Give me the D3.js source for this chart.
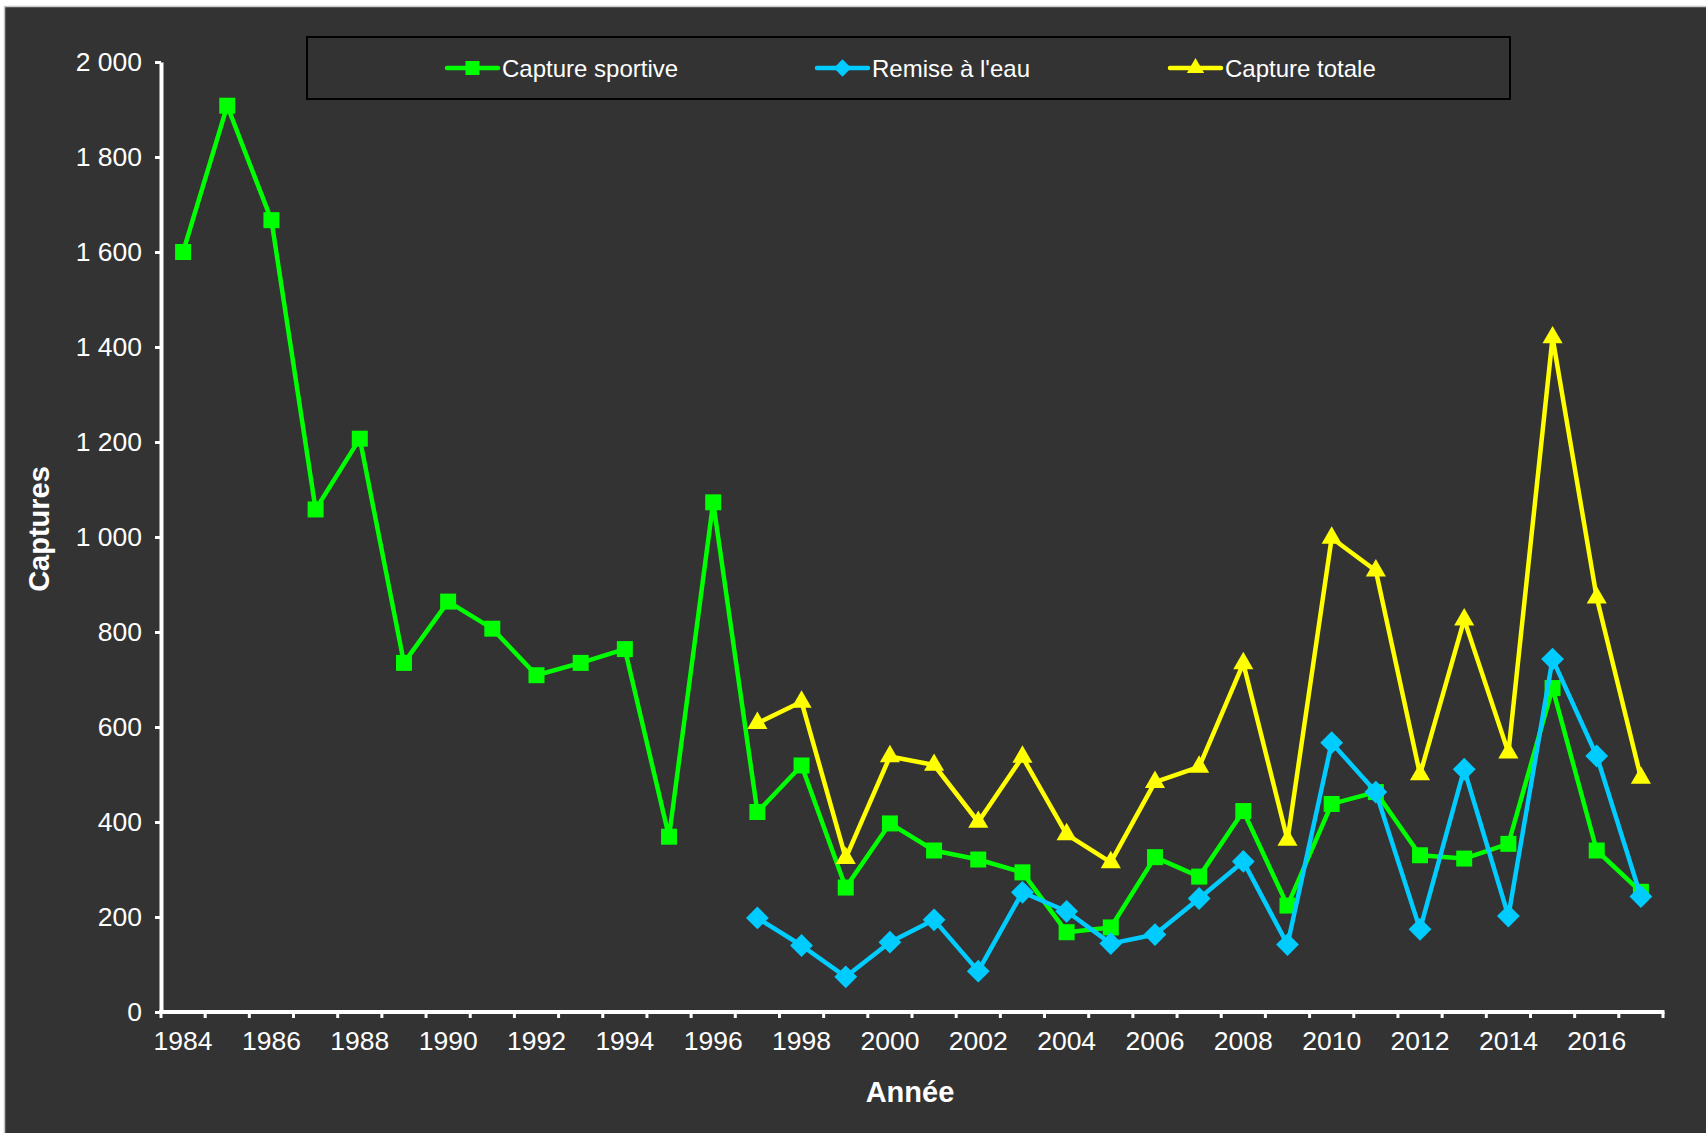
<!DOCTYPE html>
<html>
<head>
<meta charset="utf-8">
<script src="https://cdn.jsdelivr.net/npm/d3@7"></script>
<style>
  html, body { margin: 0; padding: 0; background: #ffffff; }
  svg { display: block; }
  text { font-family: "Liberation Sans", Arial, sans-serif; fill: #ffffff; }
</style>
</head>
<body>
<div id="chart"></div>
<script>
// years on the category axis
const years = d3.range(1984, 2018);
const yTicks = [0, 200, 400, 600, 800, 1000, 1200, 1400, 1600, 1800, 2000];

// Capture sportive, 1984 - 2017
const captureSportive = [1600, 1908, 1667, 1058, 1207, 735, 864, 807, 709, 735, 764, 369, 1073,
  421, 519, 262, 397, 340, 321, 294, 168, 178, 326, 285, 423, 224, 438, 463, 330, 323, 354, 682, 340, 253];

// Remise à l'eau, 1997 - 2017
const remiseYears = d3.range(1997, 2018);
const remiseEau = [198, 140, 74, 147, 194, 86, 252, 212, 144, 163, 239, 317, 142, 567, 463, 174, 511, 202, 743, 539, 243];

// Capture totale, 1997 - 2017
const totaleYears = d3.range(1997, 2018);
const captureTotale = [608, 653, 324, 538, 520, 400, 537, 374, 315, 484, 516, 734, 362, 998, 929, 500, 826, 546, 1420, 872, 493];

const seriesNames = ["Capture sportive", "Remise à l'eau", "Capture totale"];
const seriesColors = ["#00ff00", "#00ccff", "#ffff00"];

const width = 1706, height = 1133;
const plot = { left: 161, right: 1663, top: 62, bottom: 1012 };

const svg = d3.select("#chart").append("svg")
  .attr("width", width)
  .attr("height", height);

// dark chart area with thin light border
svg.append("rect")
  .attr("x", 4.5).attr("y", 6.5)
  .attr("width", width).attr("height", height)
  .attr("fill", "#333333")
  .attr("stroke", "#c8c8c8")
  .attr("stroke-width", 1.5);

// scales
const x = d3.scaleBand().domain(years).range([plot.left, plot.right]).paddingInner(0).paddingOuter(0);
const y = d3.scaleLinear().domain([0, 2000]).range([plot.bottom, plot.top]);
const cx = yr => x(yr) + x.bandwidth() / 2;

const fmt = d3.formatLocale({ decimal: ",", thousands: "\u00a0", grouping: [3], currency: ["", ""] }).format(",");

// y axis
const yAxis = svg.append("g")
  .attr("transform", `translate(${plot.left},0)`)
  .call(d3.axisLeft(y).tickValues(yTicks).tickFormat(fmt).tickSize(6).tickSizeOuter(0).tickPadding(13));
yAxis.select(".domain").attr("stroke", "#ffffff").attr("stroke-width", 4);
yAxis.selectAll(".tick line").attr("stroke", "#ffffff").attr("stroke-width", 3);
yAxis.selectAll(".tick text")
  .style("font-size", "26.5px")
  .style("font-family", "'Liberation Sans', Arial, sans-serif")
  .attr("fill", "#ffffff");

// x axis: labels on even years, ticks between categories
const xAxis = svg.append("g")
  .attr("transform", `translate(0,${plot.bottom})`)
  .call(d3.axisBottom(x).tickValues(years.filter(d => d % 2 === 0)).tickSize(0).tickPadding(19));
xAxis.select(".domain").remove();
xAxis.selectAll(".tick text")
  .style("font-size", "26.5px")
  .style("font-family", "'Liberation Sans', Arial, sans-serif")
  .attr("fill", "#ffffff");

const boundaries = years.map(d => x(d)).concat([plot.right]);
svg.append("g").selectAll("line")
  .data(boundaries)
  .join("line")
  .attr("x1", d => d).attr("x2", d => d)
  .attr("y1", plot.bottom).attr("y2", plot.bottom + 6)
  .attr("stroke", "#ffffff").attr("stroke-width", 3);
svg.append("line")
  .attr("x1", plot.left - 2).attr("x2", plot.right + 1.5)
  .attr("y1", plot.bottom).attr("y2", plot.bottom)
  .attr("stroke", "#ffffff").attr("stroke-width", 4);

// axis titles
svg.append("text")
  .attr("transform", `translate(39,529) rotate(-90)`)
  .attr("text-anchor", "middle")
  .attr("dominant-baseline", "central")
  .style("font-size", "29px").style("font-weight", "bold")
  .text("Captures");
svg.append("text")
  .attr("x", 910).attr("y", 1092)
  .attr("text-anchor", "middle")
  .attr("dominant-baseline", "central")
  .style("font-size", "29px").style("font-weight", "bold")
  .text("Année");

// markers
const shapes = [
  { type: d3.symbolSquare, size: 256, rot: 0 },
  { type: d3.symbolSquare, size: 260, rot: 45 },
  { type: d3.symbolTriangle, size: 175, rot: 0 }
];
const legendShapes = [
  { type: d3.symbolSquare, size: 196, rot: 0 },
  { type: d3.symbolSquare, size: 150, rot: 45 },
  { type: d3.symbolTriangle, size: 130, rot: 0 }
];

const line = d3.line().x(d => cx(d.year)).y(d => y(d.value));

const series = [
  years.map((yr, i) => ({ year: yr, value: captureSportive[i] })),
  remiseYears.map((yr, i) => ({ year: yr, value: remiseEau[i] })),
  totaleYears.map((yr, i) => ({ year: yr, value: captureTotale[i] }))
];

// draw order: green, blue, yellow like the original
series.forEach((data, s) => {
  const g = svg.append("g");
  g.append("path")
    .datum(data)
    .attr("d", line)
    .attr("fill", "none")
    .attr("stroke", seriesColors[s])
    .attr("stroke-width", 4.5)
    .attr("stroke-linejoin", "round");
  g.selectAll("path.mark")
    .data(data)
    .join("path")
    .attr("class", "mark")
    .attr("d", d3.symbol().type(shapes[s].type).size(shapes[s].size))
    .attr("transform", d => `translate(${cx(d.year)},${y(d.value)}) rotate(${shapes[s].rot})`)
    .attr("fill", seriesColors[s]);
});

// legend
svg.append("rect")
  .attr("x", 307).attr("y", 37)
  .attr("width", 1203).attr("height", 62)
  .attr("fill", "#333333")
  .attr("stroke", "#000000")
  .attr("stroke-width", 2);

const legendX = [447, 817, 1170];
const legend = svg.append("g").selectAll("g")
  .data(seriesNames)
  .join("g")
  .attr("transform", (d, i) => `translate(${legendX[i]},68)`);
legend.append("line")
  .attr("x1", 0).attr("x2", 51)
  .attr("y1", 0).attr("y2", 0)
  .attr("stroke", (d, i) => seriesColors[i])
  .attr("stroke-width", 4.5)
  .attr("stroke-linecap", "round");
legend.append("path")
  .attr("d", (d, i) => d3.symbol().type(legendShapes[i].type).size(legendShapes[i].size)())
  .attr("transform", (d, i) => `translate(25.5,0) rotate(${legendShapes[i].rot})`)
  .attr("fill", (d, i) => seriesColors[i]);
legend.append("text")
  .attr("x", 55).attr("y", 0)
  .attr("dominant-baseline", "central")
  .style("font-size", "24px")
  .text(d => d);
</script>
</body>
</html>
